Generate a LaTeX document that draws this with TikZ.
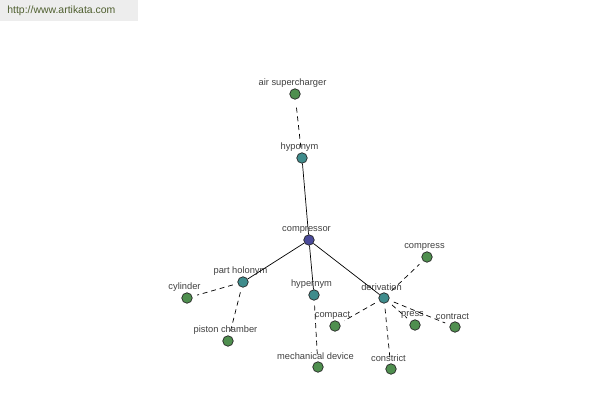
\documentclass[tikz,border=0pt]{standalone}
\usepackage{fontspec}
\setmainfont{Liberation Sans}
\definecolor{rootblue}{HTML}{4A4A9A}
\definecolor{relteal}{HTML}{3F8C8C}
\definecolor{leafgreen}{HTML}{4F8F4F}
\definecolor{urlgreen}{HTML}{4F5F2F}
\begin{document}
\begin{tikzpicture}[x=0.02cm, y=-0.02cm,
    word/.style={circle, draw=black!85, line width=0.4pt, minimum size=0.21cm, inner sep=0pt},
    rootword/.style={word, fill=rootblue},
    relword/.style={word, fill=relteal},
    leafword/.style={word, fill=leafgreen},
    tag/.style={font=\fontsize{5.3}{6}\selectfont, text=black!75, inner sep=0.6pt, xshift=-0.05cm},
    solidlink/.style={line width=0.4pt},
    dashlink/.style={line width=0.4pt, dash pattern=on 2.8pt off 2.2pt, shorten <=0.1cm, shorten >=0.1cm}]
    \useasboundingbox (0,0) rectangle (600,400);
    % site banner
    \fill[black!7] (0,0) rectangle (138,21);
    \node[anchor=west, inner sep=0pt, text=urlgreen, font=\fontsize{5.95}{7}\selectfont] (url) at (7,11) {http://www.artikata.com};
    % nodes
    \node[rootword, label={[tag]above:compressor}] (compressor) at (309,240) {};
    \node[relword, label={[tag]above:hyponym}] (hyponym) at (302,158) {};
    \node[relword, label={[tag]above:part holonym}] (holonym) at (243,282) {};
    \node[relword, label={[tag]above:hypernym}] (hypernym) at (314,295) {};
    \node[relword, label={[tag]above:derivation}] (derivation) at (384,298) {};
    \node[leafword, label={[tag]above:air supercharger}] (supercharger) at (295,94) {};
    \node[leafword, label={[tag]above:cylinder}] (cylinder) at (187,298) {};
    \node[leafword, label={[tag]above:piston chamber}] (piston) at (228,341) {};
    \node[leafword, label={[tag]above:mechanical device}] (device) at (318,367) {};
    \node[leafword, label={[tag]above:compress}] (compress) at (427,257) {};
    \node[leafword, label={[tag]above:compact}] (compact) at (335,326) {};
    \node[leafword, label={[tag]above:press}] (press) at (415,325) {};
    \node[leafword, label={[tag]above:contract}] (contract) at (455,327) {};
    \node[leafword, label={[tag]above:constrict}] (constrict) at (391,369) {};
    % relations
    \foreach \rel in {hyponym, holonym, hypernym, derivation}
        \draw[solidlink] (compressor) -- (\rel);
    \draw[dashlink] (hyponym) -- (supercharger);
    \draw[dashlink] (holonym) -- (cylinder);
    \draw[dashlink] (holonym) -- (piston);
    \draw[dashlink] (hypernym) -- (device);
    \foreach \leaf in {compress, compact, press, contract, constrict}
        \draw[dashlink] (derivation) -- (\leaf);
\end{tikzpicture}
\end{document}
